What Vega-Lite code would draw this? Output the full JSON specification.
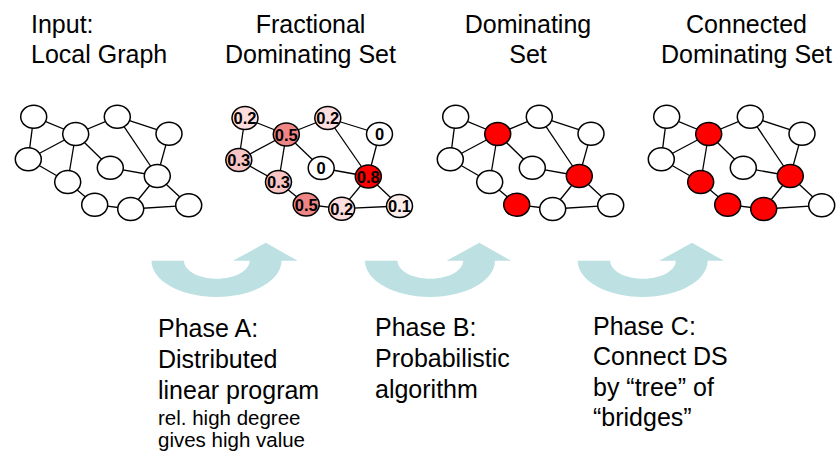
{
  "$schema": "https://vega.github.io/schema/vega-lite/v6.json",
  "width": 839,
  "height": 453,
  "padding": 0,
  "autosize": {"type": "fit", "contains": "padding"},
  "background": "white",
  "config": {"view": {"stroke": null}},
  "datasets": {
    "nodes": [
      {"k":"1A","x":33.7,"y":116.7,"shade":"0"},
      {"k":"1B","x":75.7,"y":134,"shade":"0"},
      {"k":"1C","x":117.3,"y":116.7,"shade":"0"},
      {"k":"1D","x":169,"y":133.7,"shade":"0"},
      {"k":"1E","x":28.3,"y":159.3,"shade":"0"},
      {"k":"1F","x":110.3,"y":167.7,"shade":"0"},
      {"k":"1G","x":157.3,"y":176,"shade":"0"},
      {"k":"1H","x":67.7,"y":182,"shade":"0"},
      {"k":"1I","x":94.7,"y":204.7,"shade":"0"},
      {"k":"1J","x":130.7,"y":209,"shade":"0"},
      {"k":"1K","x":188.7,"y":205.3,"shade":"0"},
      {"k":"2A","x":245,"y":118,"shade":"0.2","lab":"0.2"},
      {"k":"2B","x":286.3,"y":134.5,"shade":"0.5","lab":"0.5"},
      {"k":"2C","x":327.8,"y":118,"shade":"0.2","lab":"0.2"},
      {"k":"2D","x":379.5,"y":134,"shade":"0","lab":"0"},
      {"k":"2E","x":238.8,"y":160,"shade":"0.3","lab":"0.3"},
      {"k":"2F","x":321.2,"y":168,"shade":"0","lab":"0"},
      {"k":"2G","x":368.3,"y":176.5,"shade":"0.8","lab":"0.8"},
      {"k":"2H","x":278.5,"y":182,"shade":"0.3","lab":"0.3"},
      {"k":"2I","x":306.2,"y":204.5,"shade":"0.5","lab":"0.5"},
      {"k":"2J","x":341.7,"y":208.7,"shade":"0.2","lab":"0.2"},
      {"k":"2K","x":399.5,"y":206,"shade":"0.1","lab":"0.1"},
      {"k":"3A","x":455.7,"y":116.7,"shade":"0"},
      {"k":"3B","x":497.7,"y":134,"shade":"1"},
      {"k":"3C","x":539.3,"y":116.7,"shade":"0"},
      {"k":"3D","x":591,"y":133.7,"shade":"0"},
      {"k":"3E","x":450.3,"y":159.3,"shade":"0"},
      {"k":"3F","x":532.3,"y":167.7,"shade":"0"},
      {"k":"3G","x":579.3,"y":176,"shade":"1"},
      {"k":"3H","x":489.7,"y":182,"shade":"0"},
      {"k":"3I","x":516.7,"y":204.7,"shade":"1"},
      {"k":"3J","x":552.7,"y":209,"shade":"0"},
      {"k":"3K","x":610.7,"y":205.3,"shade":"0"},
      {"k":"4A","x":666.7,"y":116.7,"shade":"0"},
      {"k":"4B","x":708.7,"y":134,"shade":"1"},
      {"k":"4C","x":750.3,"y":116.7,"shade":"0"},
      {"k":"4D","x":802,"y":133.7,"shade":"0"},
      {"k":"4E","x":661.3,"y":159.3,"shade":"0"},
      {"k":"4F","x":743.3,"y":167.7,"shade":"0"},
      {"k":"4G","x":790.3,"y":176,"shade":"1"},
      {"k":"4H","x":700.7,"y":182,"shade":"1"},
      {"k":"4I","x":727.7,"y":204.7,"shade":"1"},
      {"k":"4J","x":763.7,"y":209,"shade":"1"},
      {"k":"4K","x":821.7,"y":205.3,"shade":"0"}
    ],
    "edges": [
      {"s":"1A","t":"1B"},{"s":"1A","t":"1E"},{"s":"1B","t":"1C"},{"s":"1B","t":"1E"},{"s":"1B","t":"1H"},{"s":"1B","t":"1F"},{"s":"1C","t":"1D"},{"s":"1C","t":"1G"},{"s":"1D","t":"1G"},{"s":"1F","t":"1G"},{"s":"1E","t":"1H"},{"s":"1H","t":"1I"},{"s":"1I","t":"1J"},{"s":"1J","t":"1G"},{"s":"1J","t":"1K"},{"s":"1G","t":"1K"},
      {"s":"2A","t":"2B"},{"s":"2A","t":"2E"},{"s":"2B","t":"2C"},{"s":"2B","t":"2E"},{"s":"2B","t":"2H"},{"s":"2B","t":"2F"},{"s":"2C","t":"2D"},{"s":"2C","t":"2G"},{"s":"2D","t":"2G"},{"s":"2F","t":"2G"},{"s":"2E","t":"2H"},{"s":"2H","t":"2I"},{"s":"2I","t":"2J"},{"s":"2J","t":"2G"},{"s":"2J","t":"2K"},{"s":"2G","t":"2K"},
      {"s":"3A","t":"3B"},{"s":"3A","t":"3E"},{"s":"3B","t":"3C"},{"s":"3B","t":"3E"},{"s":"3B","t":"3H"},{"s":"3B","t":"3F"},{"s":"3C","t":"3D"},{"s":"3C","t":"3G"},{"s":"3D","t":"3G"},{"s":"3F","t":"3G"},{"s":"3E","t":"3H"},{"s":"3H","t":"3I"},{"s":"3I","t":"3J"},{"s":"3J","t":"3G"},{"s":"3J","t":"3K"},{"s":"3G","t":"3K"},
      {"s":"4A","t":"4B"},{"s":"4A","t":"4E"},{"s":"4B","t":"4C"},{"s":"4B","t":"4E"},{"s":"4B","t":"4H"},{"s":"4B","t":"4F"},{"s":"4C","t":"4D"},{"s":"4C","t":"4G"},{"s":"4D","t":"4G"},{"s":"4F","t":"4G"},{"s":"4E","t":"4H"},{"s":"4H","t":"4I"},{"s":"4I","t":"4J"},{"s":"4J","t":"4G"},{"s":"4J","t":"4K"},{"s":"4G","t":"4K"}
    ],
    "arrows": [
      {"x":224.6,"y":269.9},
      {"x":438.1,"y":269.9},
      {"x":650.8,"y":269.9}
    ],
    "leftBig": [
      {"x":31,"y":33,"t":"Input:"},
      {"x":31,"y":63,"t":"Local Graph"},
      {"x":158,"y":337,"t":"Phase A:"},
      {"x":158,"y":368,"t":"Distributed"},
      {"x":158,"y":399,"t":"linear program"},
      {"x":375,"y":336,"t":"Phase B:"},
      {"x":375,"y":367,"t":"Probabilistic"},
      {"x":375,"y":398,"t":"algorithm"},
      {"x":593,"y":335,"t":"Phase C:"},
      {"x":593,"y":365,"t":"Connect DS"},
      {"x":593,"y":396,"t":"by “tree” of"},
      {"x":593,"y":426,"t":"“bridges”"}
    ],
    "centerBig": [
      {"x":310.5,"y":33,"t":"Fractional"},
      {"x":310.5,"y":63,"t":"Dominating Set"},
      {"x":528,"y":33,"t":"Dominating"},
      {"x":528,"y":63,"t":"Set"},
      {"x":746.5,"y":33,"t":"Connected"},
      {"x":746.5,"y":63,"t":"Dominating Set"}
    ],
    "small": [
      {"x":158,"y":425,"t":"rel. high degree"},
      {"x":158,"y":447,"t":"gives high value"}
    ]
  },
  "layer": [
    {
      "data": {"name": "arrows"},
      "mark": {
        "type": "point",
        "filled": true,
        "color": "#bde0e3",
        "opacity": 1,
        "size": 21374,
        "shape": "M-1,-0.124C-1,0.149,-0.602,0.371,-0.111,0.371C0.380,0.371,0.778,0.149,0.778,-0.124L1,-0.124L0.564,-0.371L0.115,-0.124L0.342,-0.124C0.342,0.012,0.141,0.122,-0.1065,0.122C-0.354,0.122,-0.555,0.012,-0.555,-0.124Z"
      },
      "encoding": {
        "x": {"field": "x", "type": "quantitative", "scale": {"domain": [0, 839], "nice": false, "zero": false}, "axis": null},
        "y": {"field": "y", "type": "quantitative", "scale": {"domain": [0, 453], "reverse": true, "nice": false, "zero": false}, "axis": null}
      }
    },
    {
      "data": {"name": "edges"},
      "transform": [
        {"lookup": "s", "from": {"data": {"name": "nodes"}, "key": "k", "fields": ["x", "y"]}, "as": ["sx", "sy"]},
        {"lookup": "t", "from": {"data": {"name": "nodes"}, "key": "k", "fields": ["x", "y"]}, "as": ["tx", "ty"]}
      ],
      "mark": {"type": "rule", "color": "black", "strokeWidth": 1.3},
      "encoding": {
        "x": {"field": "sx", "type": "quantitative", "scale": {"domain": [0, 839], "nice": false, "zero": false}, "axis": null},
        "y": {"field": "sy", "type": "quantitative", "scale": {"domain": [0, 453], "reverse": true, "nice": false, "zero": false}, "axis": null},
        "x2": {"field": "tx"},
        "y2": {"field": "ty"}
      }
    },
    {
      "data": {"name": "nodes"},
      "mark": {
        "type": "point",
        "filled": true,
        "opacity": 1,
        "stroke": "black",
        "strokeWidth": 1.5,
        "size": 676,
        "shape": "M-1,0C-1,0.489,-0.552,0.885,0,0.885C0.552,0.885,1,0.489,1,0C1,-0.489,0.552,-0.885,0,-0.885C-0.552,-0.885,-1,-0.489,-1,0Z"
      },
      "encoding": {
        "x": {"field": "x", "type": "quantitative", "scale": {"domain": [0, 839], "nice": false, "zero": false}, "axis": null},
        "y": {"field": "y", "type": "quantitative", "scale": {"domain": [0, 453], "reverse": true, "nice": false, "zero": false}, "axis": null},
        "fill": {
          "field": "shade",
          "type": "nominal",
          "legend": null,
          "scale": {
            "domain": ["0", "0.1", "0.2", "0.3", "0.5", "0.8", "1"],
            "range": ["#ffffff", "#fdeeee", "#fcdcdc", "#f8c4c4", "#ef8585", "#ff0000", "#ff0000"]
          }
        }
      }
    },
    {
      "data": {"name": "nodes"},
      "transform": [{"filter": "datum.lab != null"}],
      "mark": {"type": "text", "font": "Liberation Sans", "fontSize": 16.5, "fontWeight": "bold", "color": "black", "align": "center", "baseline": "middle", "dy": 1},
      "encoding": {
        "x": {"field": "x", "type": "quantitative", "scale": {"domain": [0, 839], "nice": false, "zero": false}, "axis": null},
        "y": {"field": "y", "type": "quantitative", "scale": {"domain": [0, 453], "reverse": true, "nice": false, "zero": false}, "axis": null},
        "text": {"field": "lab"}
      }
    },
    {
      "data": {"name": "leftBig"},
      "mark": {"type": "text", "font": "Liberation Sans", "fontSize": 25, "color": "black", "align": "left", "baseline": "alphabetic"},
      "encoding": {
        "x": {"field": "x", "type": "quantitative", "scale": {"domain": [0, 839], "nice": false, "zero": false}, "axis": null},
        "y": {"field": "y", "type": "quantitative", "scale": {"domain": [0, 453], "reverse": true, "nice": false, "zero": false}, "axis": null},
        "text": {"field": "t"}
      }
    },
    {
      "data": {"name": "centerBig"},
      "mark": {"type": "text", "font": "Liberation Sans", "fontSize": 25, "color": "black", "align": "center", "baseline": "alphabetic"},
      "encoding": {
        "x": {"field": "x", "type": "quantitative", "scale": {"domain": [0, 839], "nice": false, "zero": false}, "axis": null},
        "y": {"field": "y", "type": "quantitative", "scale": {"domain": [0, 453], "reverse": true, "nice": false, "zero": false}, "axis": null},
        "text": {"field": "t"}
      }
    },
    {
      "data": {"name": "small"},
      "mark": {"type": "text", "font": "Liberation Sans", "fontSize": 20.5, "color": "black", "align": "left", "baseline": "alphabetic"},
      "encoding": {
        "x": {"field": "x", "type": "quantitative", "scale": {"domain": [0, 839], "nice": false, "zero": false}, "axis": null},
        "y": {"field": "y", "type": "quantitative", "scale": {"domain": [0, 453], "reverse": true, "nice": false, "zero": false}, "axis": null},
        "text": {"field": "t"}
      }
    }
  ]
}
